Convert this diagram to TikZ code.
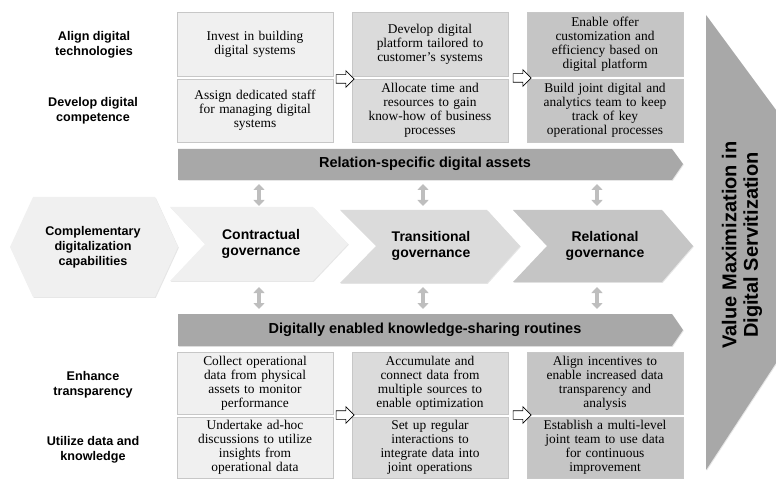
\documentclass[tikz,border=0pt]{standalone}
\usepackage{fontspec}
\setmainfont{Liberation Serif}
\setsansfont{Liberation Sans}
\usetikzlibrary{shapes.arrows, arrows.meta, shadows}

\definecolor{paleshade}{HTML}{F0F0F0}
\definecolor{lightshade}{HTML}{DBDBDB}
\definecolor{midshade}{HTML}{C5C5C5}
\definecolor{barshade}{HTML}{A8A8A8}
\definecolor{linkshade}{HTML}{BEBEBE}

\tikzstyle{practice} = [rectangle, draw=black!22, line width=0.5pt, minimum width=156pt, text width=154pt, align=center, inner sep=0pt, font=\fontsize{13.4}{13.9}\selectfont, drop shadow={opacity=0.2, shadow xshift=0.8pt, shadow yshift=-0.8pt}]
\tikzstyle{rowlabel} = [align=center, font=\sffamily\bfseries\fontsize{12.6}{15}\selectfont]
\tikzstyle{stage} = [align=center, font=\sffamily\bfseries\fontsize{14}{15.5}\selectfont]
\tikzstyle{bartext} = [font=\sffamily\bfseries\fontsize{14.5}{16}\selectfont]
\tikzstyle{openarrow} = [single arrow, draw=black, fill=white, line width=0.6pt, minimum height=18pt, single arrow head extend=4pt, inner xsep=0pt, inner ysep=4pt]
\tikzstyle{link} = [line width=4pt, draw=linkshade, {Triangle[width=11pt,length=6pt]}-{Triangle[width=11pt,length=6pt]}]
\tikzstyle{soft} = [drop shadow={opacity=0.2, shadow xshift=0.8pt, shadow yshift=-0.8pt}]

\begin{document}
\begin{tikzpicture}[x=1pt, y=-1pt]

        \useasboundingbox (0,0) rectangle (776,481);

        % Row labels
        \node at (94,45) [rowlabel] (align) {Align digital\\technologies};
        \node at (93,111) [rowlabel] (develop) {Develop digital\\competence};
        \node at (93,385) [rowlabel] (enhance) {Enhance\\transparency};
        \node at (93,450) [rowlabel] (utilize) {Utilize data and\\knowledge};

        % Digital assets practices
        \node at (255,44) [practice, fill=paleshade, minimum height=64pt] (invest) {Invest in building\\digital systems};
        \node at (255,110.5) [practice, fill=paleshade, minimum height=63pt] (assign) {Assign dedicated staff\\for managing digital\\systems};
        \node at (430,44) [practice, fill=lightshade, minimum height=64pt] (platform) {Develop digital\\platform tailored to\\customer’s systems};
        \node at (430,110.5) [practice, fill=lightshade, minimum height=63pt] (allocate) {Allocate time and\\resources to gain\\know-how of business\\processes};
        \node at (605,44) [practice, fill=midshade, minimum height=64pt] (offer) {Enable offer\\customization and\\efficiency based on\\digital platform};
        \node at (605,110.5) [practice, fill=midshade, minimum height=63pt] (team) {Build joint digital and\\analytics team to keep\\track of key\\operational processes};

        \node at (343,79) [openarrow] (step1) {};
        \node at (520,78) [openarrow] (step2) {};

        % Relation-specific digital assets
        \fill[barshade, soft] (178,149) -- (672,149) -- (683,164) -- (672,180) -- (178,180) -- cycle;
        \node at (425,164) [bartext] (assets) {Relation-specific digital assets};

        % Governance stages
        \fill[paleshade, soft] (10,247) -- (33,197) -- (155,197) -- (178,247) -- (155,297) -- (33,297) -- cycle;
        \node at (93,247) [rowlabel] (capab) {Complementary\\digitalization\\capabilities};

        \fill[paleshade, soft] (170,207) -- (313,207) -- (348,244) -- (313,281) -- (170,281) -- (205,244) -- cycle;
        \node at (261,244) [stage] (contract) {Contractual\\governance};

        \fill[lightshade, soft] (340,210) -- (487,210) -- (520,246) -- (487,283) -- (340,283) -- (376,246) -- cycle;
        \node at (431,246) [stage] (transit) {Transitional\\governance};

        \fill[midshade, soft] (513,210) -- (662,210) -- (693,246) -- (662,282) -- (513,282) -- (547,246) -- cycle;
        \node at (605,246) [stage] (relate) {Relational\\governance};

        % Links between bars and stages
        \coordinate (a1) at (259,184);
        \coordinate (b1) at (259,206);
        \coordinate (a2) at (423,184);
        \coordinate (b2) at (423,206);
        \coordinate (a3) at (597,184);
        \coordinate (b3) at (597,206);
        \draw[link] (a1) -- (b1);
        \draw[link] (a2) -- (b2);
        \draw[link] (a3) -- (b3);

        \coordinate (c1) at (259,287);
        \coordinate (d1) at (259,309);
        \coordinate (c2) at (423,287);
        \coordinate (d2) at (423,309);
        \coordinate (c3) at (597,287);
        \coordinate (d3) at (597,309);
        \draw[link] (c1) -- (d1);
        \draw[link] (c2) -- (d2);
        \draw[link] (c3) -- (d3);

        % Digitally enabled knowledge-sharing routines
        \fill[barshade, soft] (178,314) -- (672,314) -- (683,330) -- (672,346) -- (178,346) -- cycle;
        \node at (425,330) [bartext] (routines) {Digitally enabled knowledge-sharing routines};

        % Knowledge-sharing practices
        \node at (255,383) [practice, fill=paleshade, minimum height=62pt] (collect) {Collect operational\\data from physical\\assets to monitor\\performance};
        \node at (255,447.5) [practice, fill=paleshade, minimum height=61pt] (adhoc) {Undertake ad-hoc\\discussions to utilize\\insights from\\operational data};
        \node at (430,383) [practice, fill=lightshade, minimum height=62pt] (accum) {Accumulate and\\connect data from\\multiple sources to\\enable optimization};
        \node at (430,447.5) [practice, fill=lightshade, minimum height=61pt] (setup) {Set up regular\\interactions to\\integrate data into\\joint operations};
        \node at (605,383) [practice, fill=midshade, minimum height=62pt] (incent) {Align incentives to\\enable increased data\\transparency and\\analysis};
        \node at (605,447.5) [practice, fill=midshade, minimum height=61pt] (multi) {Establish a multi-level\\joint team to use data\\for continuous\\improvement};

        \node at (343,415) [openarrow] (step3) {};
        \node at (520,415) [openarrow] (step4) {};

        % Value maximization
        \fill[barshade, soft] (706,15) -- (776,110) -- (776,363) -- (706,470) -- cycle;
        \node at (742,245) [rotate=90, align=center, font=\sffamily\bfseries\fontsize{20}{21.5}\selectfont] (value) {Value Maximization in\\Digital Servitization};

\end{tikzpicture}
\end{document}
